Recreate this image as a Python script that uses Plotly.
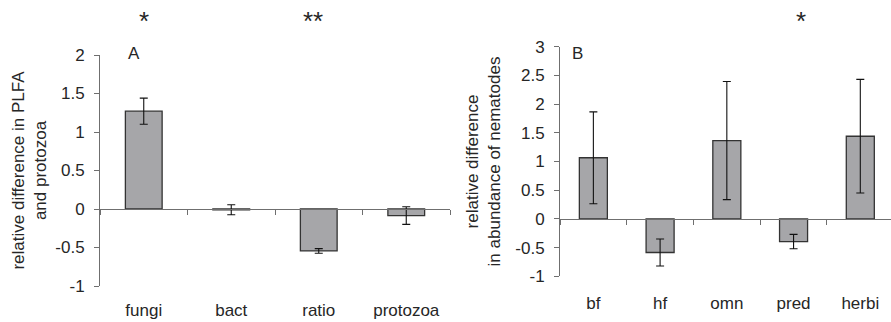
import plotly.graph_objects as go

# ---- data ----
cats_a = ["fungi", "bact", "ratio", "protozoa"]
vals_a = [1.27, -0.01, -0.545, -0.085]
err_a = [0.17, 0.065, 0.03, 0.115]
sig_a = ["*", "", "**", ""]

cats_b = ["bf", "hf", "omn", "pred", "herbi"]
vals_b = [1.065, -0.585, 1.365, -0.395, 1.44]
err_b = [0.80, 0.235, 1.03, 0.125, 0.99]
sig_b = ["", "", "", "*", ""]

ytick_a = [-1, -0.5, 0, 0.5, 1, 1.5, 2]
ytext_a = ["-1", "-0.5", "0", "0.5", "1", "1.5", "2"]
ytick_b = [-1, -0.5, 0, 0.5, 1, 1.5, 2, 2.5, 3]
ytext_b = ["-1", "-0.5", "0", "0.5", "1", "1.5", "2", "2.5", "3"]

title_a = "relative difference in PLFA<br>and protozoa"
title_b = "relative difference<br>in abundance of nematodes"

# ---- style ----
FONT = "Liberation Sans, Arial, sans-serif"
TXT = "#262626"
AX = "#6f6f6f"
BAR = "#a6a6a9"
EDGE = "#333333"
FS = 17

W, H = 891, 322
dom_xa = [100 / W, 450 / W]
dom_ya = [(H - 286) / H, (H - 55) / H]
dom_xb = [560 / W, 1.0]
dom_yb = [(H - 276.3) / H, (H - 46.7) / H]
rng_a = [-1, 2]
rng_b = [-1, 3]


def zero_pos(dom, rng):
    return dom[0] + (0 - rng[0]) / (rng[1] - rng[0]) * (dom[1] - dom[0])


fig = go.Figure()
fig.add_trace(go.Bar(
    x=cats_a, y=vals_a, width=0.42, xaxis="x", yaxis="y",
    marker=dict(color=BAR, line=dict(color=EDGE, width=1.3)),
    error_y=dict(type="data", array=err_a, visible=True, color="#111111",
                 thickness=1.1, width=4),
    showlegend=False, hoverinfo="x+y"))
fig.add_trace(go.Bar(
    x=cats_b, y=vals_b, width=0.42, xaxis="x2", yaxis="y2",
    marker=dict(color=BAR, line=dict(color=EDGE, width=1.3)),
    error_y=dict(type="data", array=err_b, visible=True, color="#111111",
                 thickness=1.1, width=4),
    showlegend=False, hoverinfo="x+y"))

common_x = dict(type="category", tickson="boundaries", ticks="outside",
                ticklen=5, tickcolor=AX, showline=True, linecolor=AX,
                linewidth=1, showgrid=False, zeroline=False, automargin=False,
                tickfont=dict(family=FONT, size=FS, color=TXT))
common_y = dict(ticks="outside", ticklen=5, tickcolor=AX, showline=True,
                linecolor=AX, linewidth=1, showgrid=False, zeroline=False,
                automargin=False,
                tickfont=dict(family=FONT, size=FS, color=TXT),
                ticklabelstandoff=6)

annotations = []
for c, s in zip(cats_a, sig_a):
    if s:
        annotations.append(dict(x=c, y=(H - 4) / H, xref="x", yref="paper",
                                text=s, showarrow=False, xshift=-6 if s == "**" else 0,
                                font=dict(family=FONT, size=26, color=TXT)))
for c, s in zip(cats_b, sig_b):
    if s:
        annotations.append(dict(x=c, y=(H - 4) / H, xref="x2", yref="paper",
                                text=s, showarrow=False, xshift=7,
                                font=dict(family=FONT, size=26, color=TXT)))
annotations.append(dict(x=126 / W, y=(H - 42) / H, xref="paper", yref="paper",
                        text="A", showarrow=False,
                        font=dict(family=FONT, size=FS, color=TXT)))
annotations.append(dict(x=577 / W, y=(H - 42) / H, xref="paper", yref="paper",
                        text="B", showarrow=False,
                        font=dict(family=FONT, size=FS, color=TXT)))

fig.update_layout(
    width=W, height=H,
    margin=dict(l=0, r=0, t=0, b=0, pad=0),
    paper_bgcolor="white", plot_bgcolor="white",
    bargap=0.58,
    xaxis=dict(domain=dom_xa, anchor="free", position=zero_pos(dom_ya, rng_a),
               range=[-0.5, 3.5], ticklabelstandoff=86, **common_x),
    yaxis=dict(domain=dom_ya, anchor="x", range=rng_a, tickmode="array",
               tickvals=ytick_a, ticktext=ytext_a,
               title=dict(text=title_a, font=dict(family=FONT, size=FS, color=TXT),
                          standoff=4),
               **common_y),
    xaxis2=dict(domain=dom_xb, anchor="free", position=zero_pos(dom_yb, rng_b),
                range=[-0.5, 4.46], ticklabelstandoff=69, **common_x),
    yaxis2=dict(domain=dom_yb, anchor="x2", range=rng_b, tickmode="array",
                tickvals=ytick_b, ticktext=ytext_b,
                title=dict(text=title_b, font=dict(family=FONT, size=FS, color=TXT),
                           standoff=10),
                **common_y),
    annotations=annotations,
)

fig.write_html("out.html", config={"displayModeBar": False},
               post_script="document.body.style.margin='0';document.body.style.padding='0';")
